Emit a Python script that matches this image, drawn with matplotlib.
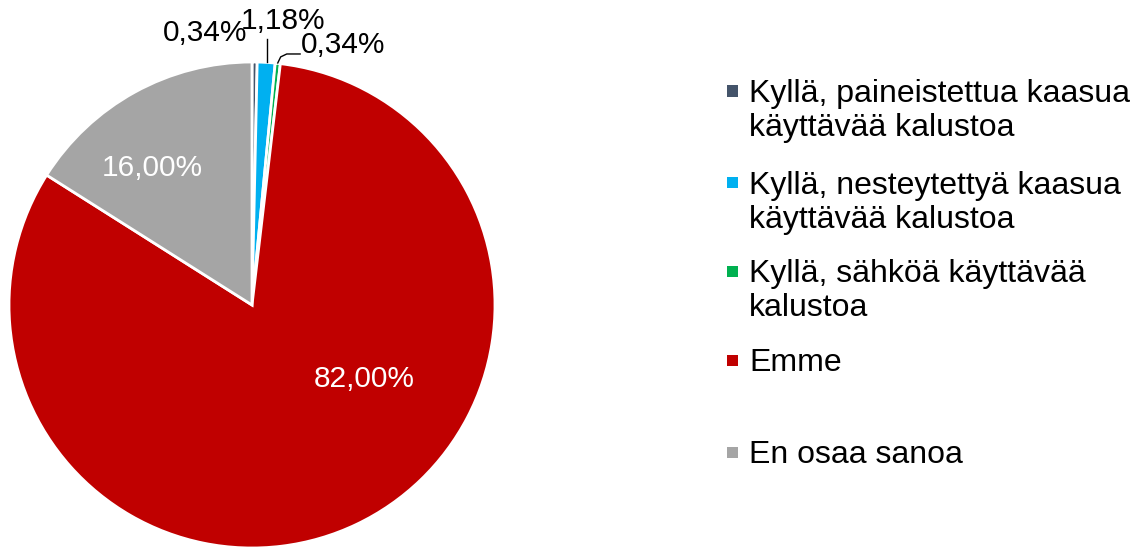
import numpy as np
import matplotlib.pyplot as plt
from matplotlib.patches import Rectangle

plt.rcParams['font.family'] = ['Liberation Sans', 'DejaVu Sans']

# Data
categories = ['Kyllä, paineistettua kaasua\nkäyttävää kalustoa',
              'Kyllä, nesteytettyä kaasua\nkäyttävää kalustoa',
              'Kyllä, sähköä käyttävää\nkalustoa',
              'Emme',
              'En osaa sanoa']
values = [0.34, 1.18, 0.34, 82.00, 16.00]
pct_labels = ['0,34%', '1,18%', '0,34%', '82,00%', '16,00%']
colors = ['#44546A', '#00B0F0', '#00B050', '#C00000', '#A5A5A5']

fig = plt.figure(figsize=(11.41, 5.47), dpi=100)
# pie axes: centre ~(252, 305) px, radius ~243 px
ax = fig.add_axes([9 / 1141, (547 - 548) / 547, 486 / 1141, 486 / 547])
wedges, _ = ax.pie(values, colors=colors, startangle=90, counterclock=False,
                   wedgeprops=dict(edgecolor='white', linewidth=2))
ax.set_xlim(-1, 1)
ax.set_ylim(-1, 1)
ax.set_aspect('equal')
ax.axis('off')

fs = 21.5
# inside labels
ax.text(0.463, -0.305, pct_labels[3], color='white', fontsize=fs, ha='center', va='center')
ax.text(-0.409, 0.564, pct_labels[4], color='white', fontsize=fs, ha='center', va='center')
# outside labels with leader lines
ax.text(-0.193, 1.119, pct_labels[0], color='black', fontsize=fs, ha='center', va='center', clip_on=False)
ax.text(0.128, 1.169, pct_labels[1], color='black', fontsize=fs, ha='center', va='center', clip_on=False)
ax.plot([0.060, 0.060], [1.0, 1.095], color='black', lw=1, clip_on=False)
ax.text(0.374, 1.070, pct_labels[2], color='black', fontsize=fs, ha='center', va='center', clip_on=False)
ax.plot([0.106, 0.118, 0.143, 0.198], [0.996, 1.021, 1.033, 1.033], color='black', lw=1, clip_on=False)

# legend drawn manually (uneven spacing as in the reference)
legend_y = [91, 183, 271, 360, 452]  # px from top, first line centre
for lab, col, y in zip(categories, colors, legend_y):
    fy = 1 - y / 547
    fig.add_artist(Rectangle((727 / 1141, fy - 5.5 / 547), 11 / 1141, 11 / 547,
                             transform=fig.transFigure, facecolor=col, edgecolor='none'))
    fig.text(749 / 1141, 1 - (y - 12) / 547, lab, fontsize=23, ha='left', va='top',
             linespacing=1.16)

fig.savefig('out.png', dpi=100)
